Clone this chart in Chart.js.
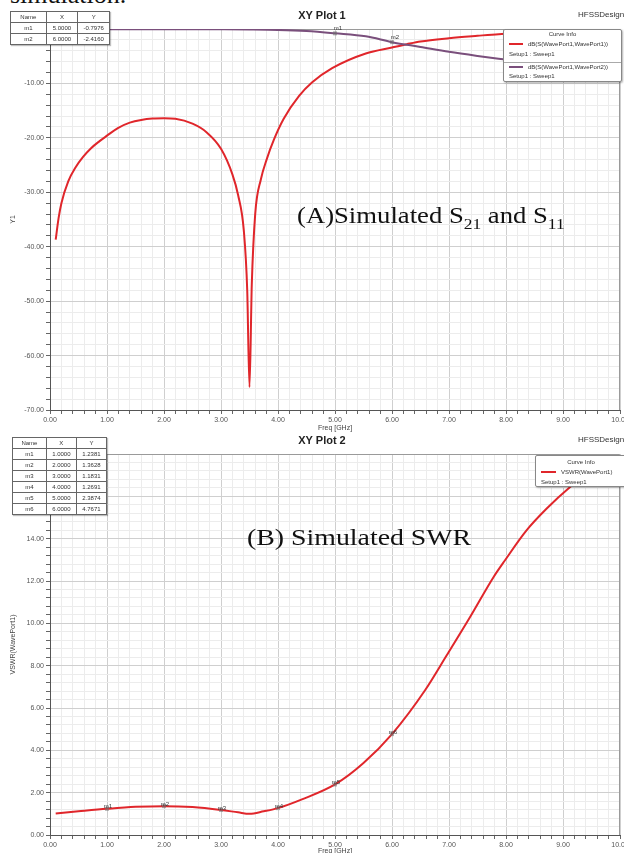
<!DOCTYPE html>
<html>
<head>
<meta charset="utf-8">
<script src="https://cdn.jsdelivr.net/npm/chart.js@4.4.0/dist/chart.umd.min.js"></script>
<style>
  html, body { margin: 0; padding: 0; background: #fff; }
  body { width: 624px; height: 853px; overflow: hidden; position: relative; font-family: "Liberation Sans", Arial, sans-serif; }
  canvas { position: absolute; left: 0; }
  #plot1 { top: 0; }
  #plot2 { top: 430px; }
  .abs { position: absolute; white-space: nowrap; }
  .caption { font-family: "Liberation Serif", "Times New Roman", serif; color: #111; transform-origin: left center; }
  .ptitle { font-size: 11px; font-weight: bold; color: #222; transform: translateX(-50%); }
  .design { font-size: 8px; color: #333; }
  table.mk { position: absolute; border-collapse: collapse; background: #fff; font-size: 6px; color: #333; box-shadow: 1px 1px 1px rgba(0,0,0,.25); table-layout: fixed; }
  table.mk td { border: 1px solid #666; text-align: center; padding: 0; line-height: 9px; overflow: hidden; }
  .legend { position: absolute; box-sizing: border-box; background: #fff; border: 1px solid #888; border-radius: 2px; box-shadow: 1px 1px 2px rgba(0,0,0,.3); font-size: 6px; color: #333; }
  .legend .row { position: absolute; white-space: nowrap; line-height: 8px; }
  .legend .sw { position: absolute; height: 2px; }
  .legend .sep { position: absolute; left: 0; right: 0; height: 0; border-top: 1px solid #aaa; }
</style>
</head>
<body>

<div class="abs caption" style="left:10px; top:-18px; font-size:26px; line-height:26px;">simulation.</div>

<canvas id="plot1" width="624" height="440"></canvas>
<canvas id="plot2" width="624" height="423"></canvas>

<div class="abs ptitle" style="left:322px; top:9px;">XY Plot 1</div>
<div class="abs design" style="left:578px; top:10px;">HFSSDesign1</div>
<div class="abs ptitle" style="left:322px; top:434px;">XY Plot 2</div>
<div class="abs design" style="left:578px; top:435px;">HFSSDesign1</div>

<div class="abs caption" style="left:297px; top:203px; font-size:23px; transform:scaleX(1.16);">(A)Simulated S<sub style="font-size:15px;">21</sub> and S<sub style="font-size:15px;">11</sub></div>
<div class="abs caption" style="left:247px; top:525px; font-size:23px; transform:scaleX(1.21);">(B) Simulated SWR</div>

<table class="mk" id="table1" style="left:10px; top:11px; width:100px;"></table>
<table class="mk" id="table2" style="left:12px; top:437px; width:95px;"></table>

<div class="legend" style="left:503px; top:29px; width:119px; height:53px;">
  <div class="row" style="left:0; right:0; top:0; text-align:center;">Curve Info</div>
  <div class="sw" style="left:5px; width:14px; top:13px; background:#e0262b;"></div>
  <div class="row" style="left:24px; top:10px;">dB(S(WavePort1,WavePort1))</div>
  <div class="row" style="left:5px; top:20px;">Setup1 : Sweep1</div>
  <div class="sep" style="top:32px;"></div>
  <div class="sw" style="left:5px; width:14px; top:36px; background:#7a4f7c;"></div>
  <div class="row" style="left:24px; top:33px;">dB(S(WavePort1,WavePort2))</div>
  <div class="row" style="left:5px; top:42px;">Setup1 : Sweep1</div>
</div>

<div class="legend" style="left:535px; top:455px; width:92px; height:32px;">
  <div class="row" style="left:0; right:0; top:2px; text-align:center;">Curve Info</div>
  <div class="sw" style="left:5px; width:15px; top:15px; background:#e0262b;"></div>
  <div class="row" style="left:25px; top:12px;">VSWR(WavePort1)</div>
  <div class="row" style="left:5px; top:22px;">Setup1 : Sweep1</div>
</div>

<script>
// XY Plot 1 : dB(S11) et dB(S21)
const freqS11 = [0.10, 0.15, 0.20, 0.32, 0.45, 0.58, 0.72, 0.87, 1.00, 1.19, 1.40, 1.60, 1.80, 2.00, 2.20, 2.50, 2.75, 3.00, 3.20, 3.30, 3.40, 3.46, 3.50, 3.54, 3.60, 3.70, 3.80, 3.93, 4.10, 4.37, 4.60, 4.95, 5.54, 6.00, 6.26, 6.50, 7.00, 7.50, 7.87, 8.50, 9.00, 9.50, 10.00];
const s11Db = [-38.7, -34.8, -32.0, -28.0, -25.4, -23.5, -21.9, -20.6, -19.6, -18.2, -17.2, -16.7, -16.45, -16.4, -16.5, -17.4, -19.0, -22.0, -26.7, -30.5, -37.0, -48.0, -65.8, -47.0, -34.0, -27.6, -24.0, -20.3, -16.5, -12.3, -9.8, -7.2, -4.5, -3.4, -2.8, -2.3, -1.7, -1.25, -0.95, -0.7, -0.6, -0.55, -0.5];

const freqS21 = [0.10, 1.00, 2.00, 3.00, 3.50, 4.00, 4.50, 5.00, 5.54, 6.00, 6.50, 7.00, 7.50, 7.87, 8.50, 9.00, 9.50, 10.00];
const s21Db = [-0.03, -0.03, -0.04, -0.06, -0.09, -0.17, -0.38, -0.7976, -1.35, -2.416, -3.3, -4.2, -4.95, -5.45, -6.2, -6.75, -7.25, -7.7];

const markers1Name = ['m1', 'm2'];
const markers1X = [5, 6];
const markers1Y = [-0.7976, -2.4160];

// XY Plot 2 : VSWR
const freqVswr = [0.10, 0.50, 1.00, 1.50, 2.00, 2.50, 3.00, 3.30, 3.50, 3.75, 4.00, 4.42, 5.00, 5.50, 6.00, 6.58, 6.96, 7.37, 7.78, 7.98, 8.36, 8.71, 9.12, 9.50, 10.00];
const vswr = [1.02, 1.12, 1.238, 1.33, 1.363, 1.32, 1.183, 1.07, 1.0, 1.12, 1.269, 1.68, 2.387, 3.4, 4.767, 6.84, 8.49, 10.3, 12.18, 12.97, 14.39, 15.41, 16.43, 17.2, 17.9];

const markers2Name = ['m1', 'm2', 'm3', 'm4', 'm5', 'm6'];
const markers2X = [1, 2, 3, 4, 5, 6];
const markers2Y = [1.2381, 1.3628, 1.1831, 1.2691, 2.3874, 4.7671];

const FONT = '"Liberation Sans", Arial, sans-serif';

function zip(xs, ys) {
  return xs.map((x, i) => ({ x, y: ys[i] }));
}

function isMajor(v, step) {
  if (v === undefined || v === null) return false;
  return Math.abs(v / step - Math.round(v / step)) < 1e-6;
}

function fillTable(id, names, xs, ys) {
  const table = document.getElementById(id);
  let html = '<colgroup><col style="width:36%"><col style="width:32%"><col style="width:32%"></colgroup>';
  html += '<tr style="height:11px"><td>Name</td><td>X</td><td>Y</td></tr>';
  names.forEach((n, i) => {
    html += `<tr style="height:11px"><td>${n}</td><td>${xs[i].toFixed(4)}</td><td>${ys[i].toFixed(4)}</td></tr>`;
  });
  table.innerHTML = html;
}

// petits marqueurs m1, m2... sur les courbes
const markerPlugin = {
  id: 'markers',
  afterDatasetsDraw(chart, args, opts) {
    if (!opts || !opts.names) return;
    const { ctx } = chart;
    const xs = chart.scales.x;
    const ys = chart.scales.y;
    ctx.save();
    ctx.font = '6px ' + FONT;
    ctx.textAlign = 'center';
    ctx.textBaseline = 'middle';
    opts.names.forEach((name, i) => {
      const px = xs.getPixelForValue(opts.xs[i]);
      const py = ys.getPixelForValue(opts.ys[i]);
      ctx.fillStyle = 'rgba(110,110,110,0.55)';
      ctx.fillRect(px - 2, py - 2, 4, 4);
      ctx.fillStyle = '#333';
      ctx.fillText(name, px + opts.dx, py + opts.dy);
    });
    ctx.restore();
  },
};

// cadre gris autour de la zone de tracé
const framePlugin = {
  id: 'frame',
  beforeDatasetsDraw(chart) {
    const { ctx, chartArea: a } = chart;
    ctx.save();
    ctx.strokeStyle = '#9a9a9a';
    ctx.lineWidth = 1;
    ctx.beginPath();
    ctx.moveTo(a.left, a.top + 0.5);
    ctx.lineTo(a.right - 0.5, a.top + 0.5);
    ctx.lineTo(a.right - 0.5, a.bottom);
    ctx.stroke();
    ctx.restore();
  },
};

function xScale(titlePadBottom, height) {
  return {
    type: 'linear',
    min: 0,
    max: 10,
    afterFit: (s) => { s.height = height; s.paddingLeft = 0; s.paddingRight = 0; },
    ticks: {
      stepSize: 0.2,
      autoSkip: false,
      maxRotation: 0,
      padding: 2,
      color: '#555',
      font: { size: 7, family: FONT },
      callback: (v) => (isMajor(v, 1) ? Number(v).toFixed(2) : ''),
    },
    grid: {
      color: (c) => (isMajor(c.tick && c.tick.value, 1) ? '#cfcfcf' : '#ececec'),
      tickColor: '#666',
      tickLength: 4,
    },
    border: { color: '#555', width: 1 },
    title: {
      display: true,
      text: 'Freq [GHz]',
      color: '#444',
      font: { size: 7, family: FONT },
      padding: { top: 0, bottom: titlePadBottom },
    },
  };
}

function yScale(min, max, step, major, title) {
  return {
    type: 'linear',
    min,
    max,
    afterFit: (s) => { s.width = 50; s.paddingTop = 0; s.paddingBottom = 0; },
    ticks: {
      stepSize: step,
      autoSkip: false,
      padding: 2,
      color: '#555',
      font: { size: 7, family: FONT },
      callback: (v) => (isMajor(v, major) ? Number(v).toFixed(2) : ''),
    },
    grid: {
      color: (c) => (isMajor(c.tick && c.tick.value, major) ? '#cfcfcf' : '#ececec'),
      tickColor: '#666',
      tickLength: 4,
    },
    border: { color: '#555', width: 1 },
    title: {
      display: true,
      text: title,
      color: '#444',
      font: { size: 7, family: FONT },
      padding: { top: 9, bottom: 0 },
    },
  };
}

function lineSet(label, data, color) {
  return {
    label,
    data,
    borderColor: color,
    borderWidth: 2,
    pointRadius: 0,
    fill: false,
    cubicInterpolationMode: 'monotone',
  };
}

fillTable('table1', markers1Name, markers1X, markers1Y);
fillTable('table2', markers2Name, markers2X, markers2Y);

new Chart(document.getElementById('plot1'), {
  type: 'line',
  data: {
    datasets: [
      lineSet('dB(S(WavePort1,WavePort2))', zip(freqS21, s21Db), '#7a4f7c'),
      lineSet('dB(S(WavePort1,WavePort1))', zip(freqS11, s11Db), '#e0262b'),
    ],
  },
  options: {
    responsive: false,
    animation: false,
    layout: { padding: { top: 29, right: 4, bottom: 0, left: 0 } },
    plugins: {
      legend: { display: false },
      tooltip: { enabled: false },
      markers: { names: markers1Name, xs: markers1X, ys: markers1Y, dx: 3, dy: -5 },
    },
    scales: {
      x: xScale(7.8, 30),
      y: yScale(-70, 0, 2, 10, 'Y1'),
    },
  },
  plugins: [framePlugin, markerPlugin],
});

new Chart(document.getElementById('plot2'), {
  type: 'line',
  data: {
    datasets: [lineSet('VSWR(WavePort1)', zip(freqVswr, vswr), '#e0262b')],
  },
  options: {
    responsive: false,
    animation: false,
    layout: { padding: { top: 24, right: 4, bottom: 0, left: 0 } },
    plugins: {
      legend: { display: false },
      tooltip: { enabled: false },
      markers: { names: markers2Name, xs: markers2X, ys: markers2Y, dx: 1, dy: -2 },
    },
    scales: {
      x: xScale(-2.2, 18),
      y: yScale(0, 18, 0.4, 2, 'VSWR(WavePort1)'),
    },
  },
  plugins: [framePlugin, markerPlugin],
});
</script>
</body>
</html>
